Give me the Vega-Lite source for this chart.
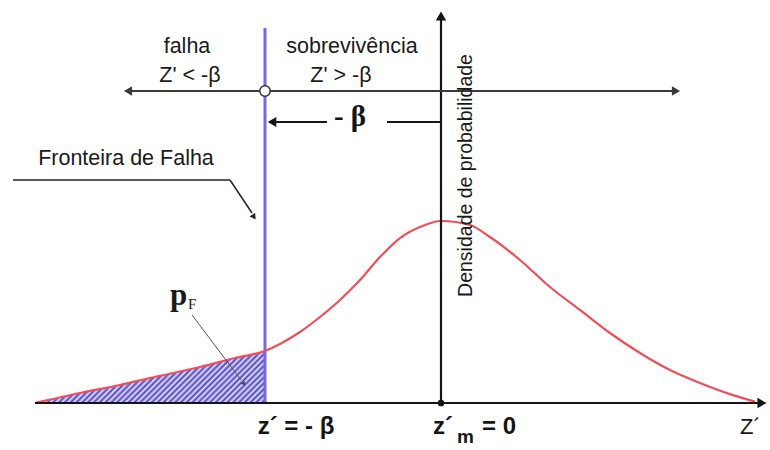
{
  "$schema": "https://vega.github.io/schema/vega-lite/v6.json",
  "width": 770,
  "height": 450,
  "autosize": {"type": "none"},
  "padding": 0,
  "background": "white",
  "config": {"view": {"stroke": null}},
  "datasets": {
    "curve": [
      {"z": -4.06, "d": 0.0},
      {"z": -3.61, "d": 0.022},
      {"z": -3.21, "d": 0.0396},
      {"z": -2.91, "d": 0.0549},
      {"z": -2.41, "d": 0.0791},
      {"z": -2.06, "d": 0.0989},
      {"z": -1.76, "d": 0.1143},
      {"z": -1.61, "d": 0.1297},
      {"z": -1.41, "d": 0.156},
      {"z": -1.21, "d": 0.189},
      {"z": -1.01, "d": 0.2264},
      {"z": -0.81, "d": 0.2703},
      {"z": -0.61, "d": 0.3209},
      {"z": -0.41, "d": 0.3626},
      {"z": -0.21, "d": 0.3868},
      {"z": 0.0, "d": 0.4},
      {"z": 0.29, "d": 0.3912},
      {"z": 0.49, "d": 0.3648},
      {"z": 0.79, "d": 0.3143},
      {"z": 1.09, "d": 0.2549},
      {"z": 1.39, "d": 0.2044},
      {"z": 1.69, "d": 0.1538},
      {"z": 1.99, "d": 0.1099},
      {"z": 2.29, "d": 0.0725},
      {"z": 2.59, "d": 0.044},
      {"z": 2.89, "d": 0.0195},
      {"z": 3.14, "d": 0.003}
    ]
  },
  "encoding": {
    "x": {"field": "z", "type": "quantitative", "scale": {"domain": [-4.41, 3.29], "nice": false, "zero": false}, "axis": null},
    "y": {"field": "d", "type": "quantitative", "scale": {"domain": [-0.1033, 0.8857], "nice": false, "zero": false}, "axis": null}
  },
  "layer": [
    {
      "data": {"name": "curve"},
      "transform": [{"filter": "datum.z <= -1.76"}],
      "mark": {
        "type": "area",
        "interpolate": "monotone",
        "fill": {
          "gradient": "linear",
          "x1": 0, "y1": 0, "x2": 1.2, "y2": 0.271,
          "stops": [
            {"offset": 0.00, "color": "#4b42c4"}, {"offset": 0.01, "color": "#e6e3fb"},
            {"offset": 0.02, "color": "#4b42c4"}, {"offset": 0.03, "color": "#e6e3fb"},
            {"offset": 0.04, "color": "#4b42c4"}, {"offset": 0.05, "color": "#e6e3fb"},
            {"offset": 0.06, "color": "#4b42c4"}, {"offset": 0.07, "color": "#e6e3fb"},
            {"offset": 0.08, "color": "#4b42c4"}, {"offset": 0.09, "color": "#e6e3fb"},
            {"offset": 0.10, "color": "#4b42c4"}, {"offset": 0.11, "color": "#e6e3fb"},
            {"offset": 0.12, "color": "#4b42c4"}, {"offset": 0.13, "color": "#e6e3fb"},
            {"offset": 0.14, "color": "#4b42c4"}, {"offset": 0.15, "color": "#e6e3fb"},
            {"offset": 0.16, "color": "#4b42c4"}, {"offset": 0.17, "color": "#e6e3fb"},
            {"offset": 0.18, "color": "#4b42c4"}, {"offset": 0.19, "color": "#e6e3fb"},
            {"offset": 0.20, "color": "#4b42c4"}, {"offset": 0.21, "color": "#e6e3fb"},
            {"offset": 0.22, "color": "#4b42c4"}, {"offset": 0.23, "color": "#e6e3fb"},
            {"offset": 0.24, "color": "#4b42c4"}, {"offset": 0.25, "color": "#e6e3fb"},
            {"offset": 0.26, "color": "#4b42c4"}, {"offset": 0.27, "color": "#e6e3fb"},
            {"offset": 0.28, "color": "#4b42c4"}, {"offset": 0.29, "color": "#e6e3fb"},
            {"offset": 0.30, "color": "#4b42c4"}, {"offset": 0.31, "color": "#e6e3fb"},
            {"offset": 0.32, "color": "#4b42c4"}, {"offset": 0.33, "color": "#e6e3fb"},
            {"offset": 0.34, "color": "#4b42c4"}, {"offset": 0.35, "color": "#e6e3fb"},
            {"offset": 0.36, "color": "#4b42c4"}, {"offset": 0.37, "color": "#e6e3fb"},
            {"offset": 0.38, "color": "#4b42c4"}, {"offset": 0.39, "color": "#e6e3fb"},
            {"offset": 0.40, "color": "#4b42c4"}, {"offset": 0.41, "color": "#e6e3fb"},
            {"offset": 0.42, "color": "#4b42c4"}, {"offset": 0.43, "color": "#e6e3fb"},
            {"offset": 0.44, "color": "#4b42c4"}, {"offset": 0.45, "color": "#e6e3fb"},
            {"offset": 0.46, "color": "#4b42c4"}, {"offset": 0.47, "color": "#e6e3fb"},
            {"offset": 0.48, "color": "#4b42c4"}, {"offset": 0.49, "color": "#e6e3fb"},
            {"offset": 0.50, "color": "#4b42c4"}, {"offset": 0.51, "color": "#e6e3fb"},
            {"offset": 0.52, "color": "#4b42c4"}, {"offset": 0.53, "color": "#e6e3fb"},
            {"offset": 0.54, "color": "#4b42c4"}, {"offset": 0.55, "color": "#e6e3fb"},
            {"offset": 0.56, "color": "#4b42c4"}, {"offset": 0.57, "color": "#e6e3fb"},
            {"offset": 0.58, "color": "#4b42c4"}, {"offset": 0.59, "color": "#e6e3fb"},
            {"offset": 0.60, "color": "#4b42c4"}, {"offset": 0.61, "color": "#e6e3fb"},
            {"offset": 0.62, "color": "#4b42c4"}, {"offset": 0.63, "color": "#e6e3fb"},
            {"offset": 0.64, "color": "#4b42c4"}, {"offset": 0.65, "color": "#e6e3fb"},
            {"offset": 0.66, "color": "#4b42c4"}, {"offset": 0.67, "color": "#e6e3fb"},
            {"offset": 0.68, "color": "#4b42c4"}, {"offset": 0.69, "color": "#e6e3fb"},
            {"offset": 0.70, "color": "#4b42c4"}, {"offset": 0.71, "color": "#e6e3fb"},
            {"offset": 0.72, "color": "#4b42c4"}, {"offset": 0.73, "color": "#e6e3fb"},
            {"offset": 0.74, "color": "#4b42c4"}, {"offset": 0.75, "color": "#e6e3fb"},
            {"offset": 0.76, "color": "#4b42c4"}, {"offset": 0.77, "color": "#e6e3fb"},
            {"offset": 0.78, "color": "#4b42c4"}, {"offset": 0.79, "color": "#e6e3fb"},
            {"offset": 0.80, "color": "#4b42c4"}, {"offset": 0.81, "color": "#e6e3fb"},
            {"offset": 0.82, "color": "#4b42c4"}, {"offset": 0.83, "color": "#e6e3fb"},
            {"offset": 0.84, "color": "#4b42c4"}, {"offset": 0.85, "color": "#e6e3fb"},
            {"offset": 0.86, "color": "#4b42c4"}, {"offset": 0.87, "color": "#e6e3fb"},
            {"offset": 0.88, "color": "#4b42c4"}, {"offset": 0.89, "color": "#e6e3fb"},
            {"offset": 0.90, "color": "#4b42c4"}, {"offset": 0.91, "color": "#e6e3fb"},
            {"offset": 0.92, "color": "#4b42c4"}, {"offset": 0.93, "color": "#e6e3fb"},
            {"offset": 0.94, "color": "#4b42c4"}, {"offset": 0.95, "color": "#e6e3fb"},
            {"offset": 0.96, "color": "#4b42c4"}, {"offset": 0.97, "color": "#e6e3fb"},
            {"offset": 0.98, "color": "#4b42c4"}, {"offset": 0.99, "color": "#e6e3fb"},
            {"offset": 1.00, "color": "#4b42c4"}
          ]
        }
      }
    },
    {
      "data": {"values": [{"z": -1.76, "d": 0, "z2": -1.76, "d2": 0.824}]},
      "mark": {"type": "rule", "color": "#7569e2", "strokeWidth": 3},
      "encoding": {"x2": {"field": "z2"}, "y2": {"field": "d2"}}
    },
    {
      "data": {"name": "curve"},
      "mark": {"type": "line", "interpolate": "monotone", "color": "#ef4f58", "strokeWidth": 2.2}
    },
    {
      "data": {"values": [
        {"z": -4.06, "d": 0, "z2": 3.22, "d2": 0},
        {"z": 0, "d": 0, "z2": 0, "d2": 0.8505},
        {"z": -1.68, "d": 0.6176, "z2": -1.14, "d2": 0.6176},
        {"z": -0.54, "d": 0.6176, "z2": 0, "d2": 0.6176}
      ]},
      "mark": {"type": "rule", "color": "#151515", "strokeWidth": 2.2},
      "encoding": {"x2": {"field": "z2"}, "y2": {"field": "d2"}}
    },
    {
      "data": {"values": [{"z": -3.12, "d": 0.6857, "z2": 2.36, "d2": 0.6857}]},
      "mark": {"type": "rule", "color": "#3a3a3a", "strokeWidth": 2},
      "encoding": {"x2": {"field": "z2"}, "y2": {"field": "d2"}}
    },
    {
      "data": {"values": [
        {"z": -4.28, "d": 0.4901, "z2": -2.11, "d2": 0.4901},
        {"z": -2.11, "d": 0.4901, "z2": -1.89, "d2": 0.4176}
      ]},
      "mark": {"type": "rule", "color": "#222222", "strokeWidth": 1.5},
      "encoding": {"x2": {"field": "z2"}, "y2": {"field": "d2"}}
    },
    {
      "data": {"values": [{"z": -2.49, "d": 0.1934, "z2": -2.0, "d2": 0.0505}]},
      "mark": {"type": "rule", "color": "#555555", "strokeWidth": 1},
      "encoding": {"x2": {"field": "z2"}, "y2": {"field": "d2"}}
    },
    {
      "data": {"values": [{"z": 3.21, "d": 0}]},
      "mark": {"type": "point", "shape": "triangle-right", "filled": true, "color": "#151515", "size": 110, "opacity": 1}
    },
    {
      "data": {"values": [{"z": 0, "d": 0.8505}]},
      "mark": {"type": "point", "shape": "triangle-up", "filled": true, "color": "#151515", "size": 110, "opacity": 1}
    },
    {
      "data": {"values": [{"z": -1.69, "d": 0.6176}]},
      "mark": {"type": "point", "shape": "triangle-left", "filled": true, "color": "#151515", "size": 100, "opacity": 1}
    },
    {
      "data": {"values": [{"z": -3.13, "d": 0.6857}]},
      "mark": {"type": "point", "shape": "triangle-left", "filled": true, "color": "#3a3a3a", "size": 90, "opacity": 1}
    },
    {
      "data": {"values": [{"z": 2.35, "d": 0.6857}]},
      "mark": {"type": "point", "shape": "triangle-right", "filled": true, "color": "#3a3a3a", "size": 90, "opacity": 1}
    },
    {
      "data": {"values": [{"z": -1.87, "d": 0.4088}]},
      "mark": {"type": "point", "shape": "triangle-up", "angle": 146, "filled": true, "color": "#222222", "size": 45, "opacity": 1}
    },
    {
      "data": {"values": [{"z": -1.97, "d": 0.0418}]},
      "mark": {"type": "point", "shape": "triangle-up", "angle": 143, "filled": true, "color": "#444444", "size": 22, "opacity": 1}
    },
    {
      "data": {"values": [{"z": -1.76, "d": 0.6857}]},
      "mark": {"type": "point", "shape": "circle", "filled": true, "fill": "white", "stroke": "#333333", "strokeWidth": 1.5, "size": 110, "opacity": 1}
    },
    {
      "data": {"values": [{"z": 0, "d": 0}]},
      "mark": {"type": "point", "shape": "circle", "filled": true, "color": "#151515", "size": 45, "opacity": 1}
    },
    {
      "data": {"values": [
        {"z": -2.54, "d": 0.7692, "label": "falha"},
        {"z": -2.51, "d": 0.7055, "label": "Z' < -β"},
        {"z": -0.89, "d": 0.7692, "label": "sobrevivência"},
        {"z": -1.0, "d": 0.7055, "label": "Z' > -β"},
        {"z": -3.15, "d": 0.5231, "label": "Fronteira de Falha"}
      ]},
      "mark": {"type": "text", "font": "Liberation Sans", "fontSize": 21.5, "color": "#1a1a1a", "align": "center", "baseline": "alphabetic"},
      "encoding": {"text": {"field": "label"}}
    },
    {
      "data": {"values": [{"z": 0.305, "d": 0.5, "label": "Densidade de probabilidade"}]},
      "mark": {"type": "text", "font": "Liberation Sans", "fontSize": 19.5, "angle": 270, "color": "#1a1a1a", "align": "center", "baseline": "alphabetic"},
      "encoding": {"text": {"field": "label"}}
    },
    {
      "data": {"values": [{"z": -0.91, "d": 0.6088, "label": "- β"}]},
      "mark": {"type": "text", "font": "Liberation Serif", "fontSize": 29, "fontWeight": "bold", "color": "#151515", "align": "center", "baseline": "alphabetic"},
      "encoding": {"text": {"field": "label"}}
    },
    {
      "data": {"values": [{"z": -2.71, "d": 0.2154, "label": "p"}]},
      "mark": {"type": "text", "font": "Liberation Serif", "fontSize": 31, "fontWeight": "bold", "color": "#1a1a1a", "align": "left", "baseline": "alphabetic"},
      "encoding": {"text": {"field": "label"}}
    },
    {
      "data": {"values": [{"z": -2.53, "d": 0.2066, "label": "F"}]},
      "mark": {"type": "text", "font": "Liberation Serif", "fontSize": 15, "color": "#1a1a1a", "align": "left", "baseline": "alphabetic"},
      "encoding": {"text": {"field": "label"}}
    },
    {
      "data": {"values": [{"z": -1.45, "d": -0.0681, "label": "z´ = - β"}]},
      "mark": {"type": "text", "font": "Liberation Sans", "fontSize": 24, "fontWeight": "bold", "color": "#151515", "align": "center", "baseline": "alphabetic"},
      "encoding": {"text": {"field": "label"}}
    },
    {
      "data": {"values": [
        {"z": -0.08, "d": -0.0681, "label": "z´"},
        {"z": 0.41, "d": -0.0681, "label": "= 0"}
      ]},
      "mark": {"type": "text", "font": "Liberation Sans", "fontSize": 24, "fontWeight": "bold", "color": "#151515", "align": "left", "baseline": "alphabetic"},
      "encoding": {"text": {"field": "label"}}
    },
    {
      "data": {"values": [{"z": 0.16, "d": -0.0879, "label": "m"}]},
      "mark": {"type": "text", "font": "Liberation Sans", "fontSize": 19, "fontWeight": "bold", "color": "#151515", "align": "left", "baseline": "alphabetic"},
      "encoding": {"text": {"field": "label"}}
    },
    {
      "data": {"values": [{"z": 2.99, "d": -0.0681, "label": "Z´"}]},
      "mark": {"type": "text", "font": "Liberation Sans", "fontSize": 22, "color": "#151515", "align": "left", "baseline": "alphabetic"},
      "encoding": {"text": {"field": "label"}}
    }
  ]
}
